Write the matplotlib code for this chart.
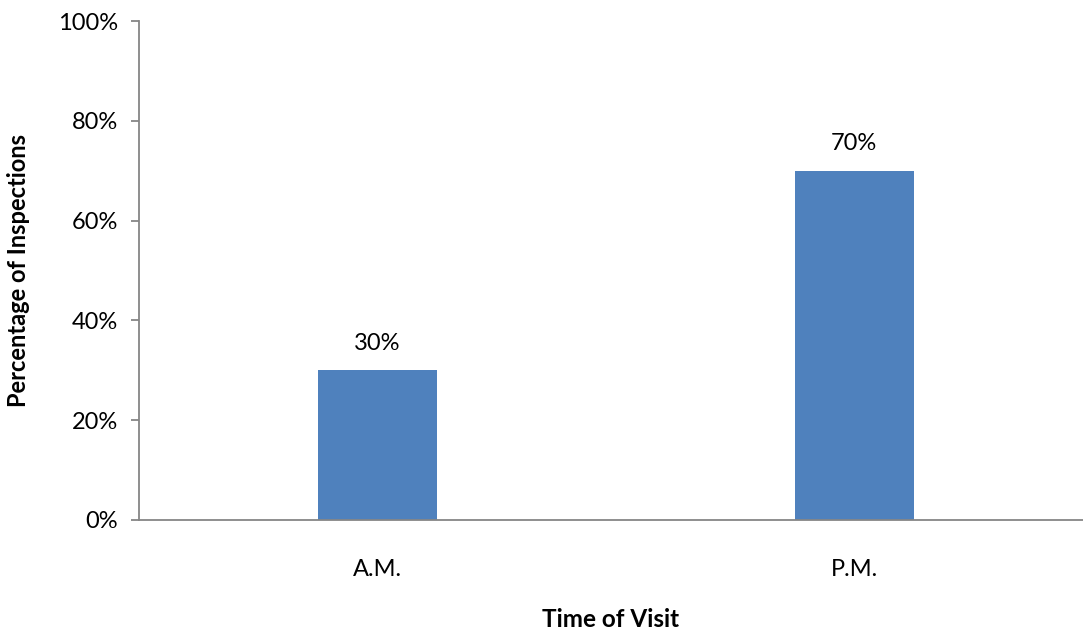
import matplotlib
matplotlib.use("Agg")
import matplotlib.pyplot as plt
from matplotlib.ticker import PercentFormatter

# Share of inspections by time of visit
visit_times = ["A.M.", "P.M."]
shares = [30, 70]
y_ticks = [0, 20, 40, 60, 80, 100]

plt.rcParams["font.family"] = ["Lato", "DejaVu Sans"]

fig = plt.figure(figsize=(10.83, 6.3), dpi=100)
ax = fig.add_axes([139 / 1083, 110 / 630, 1 - 139 / 1083, 499 / 630])

bar_color = "#4F81BD"
axis_color = "#868686"

xpos = list(range(len(visit_times)))
bars = ax.bar(xpos, shares, width=0.25, color=bar_color, zorder=2)

for x, v in zip(xpos, shares):
    ax.annotate(f"{v}%", (x, v), xytext=(0, 12), textcoords="offset points",
                ha="center", va="bottom", fontsize=17, color="#000000")

ax.set_xlim(-0.5, 1.48)
ax.set_ylim(0, 100)
ax.set_yticks(y_ticks)
ax.yaxis.set_major_formatter(PercentFormatter(decimals=0))
ax.set_xticks(xpos)
ax.set_xticklabels(visit_times)

ax.tick_params(axis="y", direction="out", length=6, width=1.3, color=axis_color,
               labelsize=17, pad=9)
ax.tick_params(axis="x", length=0, labelsize=17, pad=28)

for side in ["top", "right"]:
    ax.spines[side].set_visible(False)
for side in ["left", "bottom"]:
    ax.spines[side].set_color(axis_color)
    ax.spines[side].set_linewidth(1.3)

ax.set_xlabel("Time of Visit", fontsize=17.5, fontweight="bold", labelpad=20)
ax.set_ylabel("Percentage of Inspections", fontsize=17, fontweight="bold", labelpad=20)

fig.savefig("out.png", dpi=100)
